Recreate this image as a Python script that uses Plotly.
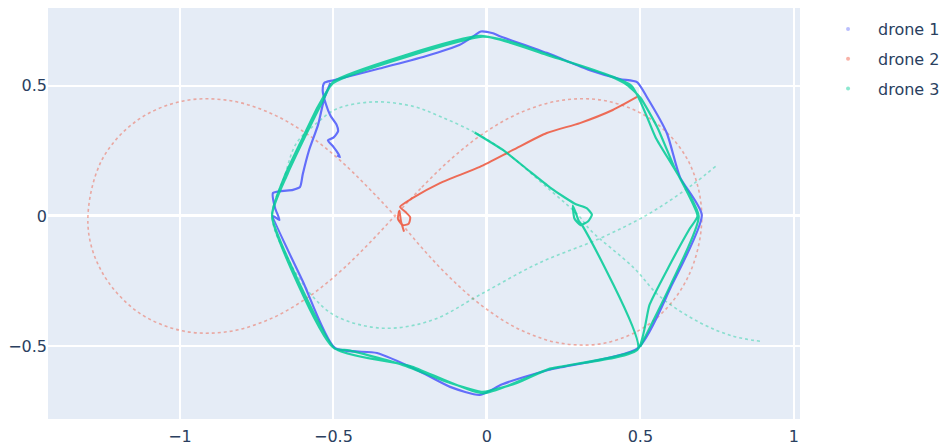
import plotly.graph_objects as go

# Drone colours
C1 = "#636efa"
C2 = "#EF553B"
C3 = "#00cc96"

# ---- drone 1: flown path (starts at the hook, wobbles up to the corner, then one lap) ----
d1_x = [-0.488, -0.479, -0.485, -0.500, -0.518, -0.500, -0.485, -0.490, -0.510, -0.525, -0.535, -0.530, -0.500,
        -0.35, -0.20, -0.09, -0.04, -0.020, 0.02, 0.04,
        0.195, 0.335, 0.433, 0.489, 0.521, 0.586, 0.629, 0.700,
        0.60, 0.492,
        0.20, 0.05, -0.023,
        -0.12, -0.228, -0.358, -0.495,
        -0.60, -0.697, -0.676, -0.690, -0.697, -0.632, -0.609,
        -0.60, -0.58, -0.55, -0.53, -0.51]
d1_y = [0.232, 0.226, 0.240, 0.265, 0.290, 0.300, 0.325, 0.350, 0.385, 0.430, 0.480, 0.510, 0.520,
        0.565, 0.612, 0.655, 0.692, 0.707, 0.700, 0.690,
        0.625, 0.559, 0.525, 0.513, 0.456, 0.318, 0.149, 0.004,
        -0.27, -0.506,
        -0.590, -0.645, -0.686,
        -0.655, -0.590, -0.525, -0.506,
        -0.25, 0.000, -0.015, 0.030, 0.088, 0.100, 0.111,
        0.16, 0.25, 0.35, 0.45, 0.51]

# ---- drone 2: reference figure-eight ----
r2_x = [-0.300, -0.212, -0.118, -0.014, 0.105, 0.242, 0.393, 0.541, 0.656, 0.700,
        0.656, 0.541, 0.393, 0.242, 0.105, -0.014, -0.118, -0.212, -0.300,
        -0.388, -0.482, -0.586, -0.705, -0.842, -0.993, -1.141, -1.256, -1.300,
        -1.256, -1.141, -0.993, -0.842, -0.705, -0.586, -0.482, -0.388, -0.300]
r2_y = [0.000, 0.110, 0.217, 0.314, 0.394, 0.443, 0.440, 0.365, 0.211, 0.000,
        -0.232, -0.403, -0.485, -0.488, -0.434, -0.346, -0.239, -0.122, 0.000,
        0.110, 0.217, 0.314, 0.394, 0.443, 0.440, 0.365, 0.211, -0.030,
        -0.211, -0.365, -0.440, -0.443, -0.394, -0.314, -0.217, -0.110, 0.000]

# ---- drone 2: flown path ----
d2_x = [0.489, 0.41, 0.303, 0.195, 0.085, -0.023, -0.153, -0.24, -0.283,
        -0.265, -0.250, -0.255, -0.275, -0.290, -0.285, -0.280, -0.270]
d2_y = [0.456, 0.406, 0.356, 0.318, 0.253, 0.188, 0.126, 0.070, 0.035,
        0.015, -0.005, -0.030, -0.035, -0.010, 0.020, -0.020, -0.060]

# ---- drone 3: reference curve ----
r3_x = [0.745, 0.67, 0.53, 0.37, 0.17, -0.02, -0.18, -0.34, -0.49, -0.57, -0.65, -0.70,
        -0.66, -0.62, -0.55, -0.49, -0.371, -0.24, -0.15, -0.04, 0.052, 0.205, 0.30,
        0.337, 0.477, 0.565, 0.696, 0.80, 0.89]
r3_y = [0.19, 0.12, 0.01, -0.085, -0.18, -0.30, -0.40, -0.43, -0.385, -0.305, -0.16, 0.00,
        0.15, 0.28, 0.36, 0.41, 0.437, 0.42, 0.38, 0.32, 0.253, 0.10, 0.00,
        -0.054, -0.197, -0.31, -0.41, -0.46, -0.48]

# ---- drone 3: flown path (approach, hover loop, two laps of the octagon) ----
d3_x = [-0.04, 0.052, 0.13, 0.205, 0.255,
        0.29, 0.325, 0.342, 0.33, 0.305, 0.285, 0.28, 0.29, 0.30, 0.31,
        0.492, 0.205, 0.098, -0.013, -0.12, -0.284, -0.45, -0.497,
        -0.700, -0.66, -0.60, -0.55, -0.500,
        -0.015, 0.085, 0.25, 0.39, 0.457, 0.50, 0.555, 0.61, 0.686,
        0.66, 0.59, 0.53, 0.492,
        0.20, -0.013, -0.25, -0.500, -0.700,
        -0.65, -0.59, -0.535, -0.500,
        -0.02, 0.20, 0.47, 0.55, 0.690, 0.60, 0.50]
d3_y = [0.32, 0.253, 0.18, 0.11, 0.07,
        0.045, 0.030, 0.005, -0.020, -0.035, -0.010, 0.040, 0.010, -0.020, -0.035,
        -0.510, -0.585, -0.640, -0.674, -0.640, -0.567, -0.515, -0.507,
        0.000, 0.15, 0.30, 0.42, 0.510,
        0.687, 0.665, 0.597, 0.541, 0.502, 0.453, 0.34, 0.188, 0.000,
        -0.05, -0.20, -0.34, -0.510,
        -0.588, -0.680, -0.575, -0.505, 0.000,
        0.16, 0.31, 0.44, 0.515,
        0.690, 0.615, 0.500, 0.30, 0.000, -0.26, -0.50]

fig = go.Figure()

# legend entries (one marker per drone)
for name, col, grp in [("drone 1", C1, "d1"), ("drone 2", C2, "d2"), ("drone 3", C3, "d3")]:
    fig.add_trace(go.Scatter(x=[None], y=[None], mode="markers", name=name,
                             legendgroup=grp, marker=dict(color=col, size=4, opacity=0.45)))

# reference trajectories (faint, dotted)
fig.add_trace(go.Scatter(x=r2_x, y=r2_y, mode="lines", legendgroup="d2", showlegend=False,
                         line=dict(color=C2, width=1.6, shape="spline", dash="dot"), opacity=0.45))
fig.add_trace(go.Scatter(x=r3_x, y=r3_y, mode="lines", legendgroup="d3", showlegend=False,
                         line=dict(color=C3, width=1.6, shape="spline", dash="dot"), opacity=0.4))

# flown paths
fig.add_trace(go.Scatter(x=d2_x, y=d2_y, mode="lines", legendgroup="d2", showlegend=False,
                         line=dict(color=C2, width=2, shape="spline", smoothing=0.6), opacity=0.85))
fig.add_trace(go.Scatter(x=d1_x, y=d1_y, mode="lines", legendgroup="d1", showlegend=False,
                         line=dict(color=C1, width=2.2, shape="spline", smoothing=0.6)))
fig.add_trace(go.Scatter(x=d3_x, y=d3_y, mode="lines", legendgroup="d3", showlegend=False,
                         line=dict(color=C3, width=2.2, shape="spline", smoothing=0.5), opacity=0.85))

fig.update_layout(
    width=942, height=446,
    margin=dict(l=48, r=142, t=8, b=27, autoexpand=False),
    template="plotly",
    font=dict(family="DejaVu Sans", size=16, color="#2a3f5f"),
    legend=dict(tracegroupgap=6, itemwidth=50, x=1.024, y=0.99),
)
fig.update_xaxes(range=[-1.430, 1.020], tickvals=[-1, -0.5, 0, 0.5, 1],
                 gridwidth=1.5, zerolinewidth=2.5, ticklabelstandoff=6, automargin=False)
fig.update_yaxes(range=[-0.778, 0.797], tickvals=[-0.5, 0, 0.5],
                 gridwidth=1.5, zerolinewidth=2.5, automargin=False)

fig.write_html("out.html")
